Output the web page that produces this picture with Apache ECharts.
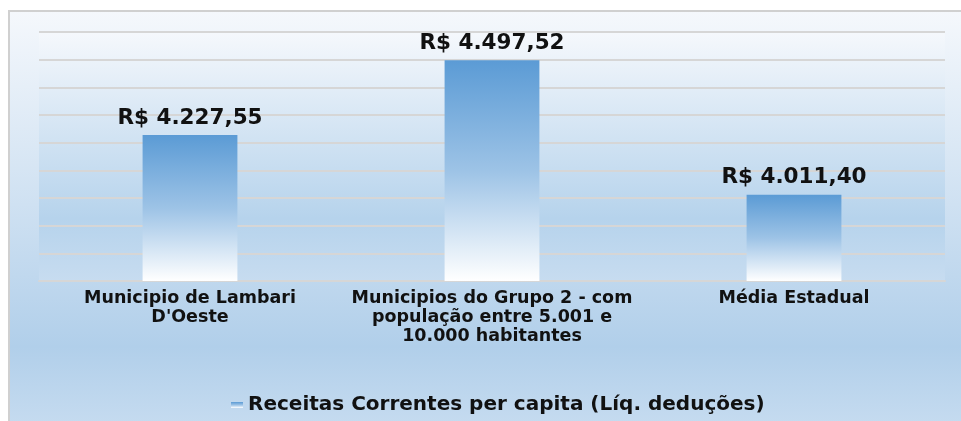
<!DOCTYPE html>
<html>
<head>
<meta charset="utf-8">
<script src="https://cdn.jsdelivr.net/npm/echarts@6/dist/echarts.min.js"></script>
<style>
  html, body { margin: 0; padding: 0; background: #ffffff; }
  #chart { width: 961px; height: 421px; }
</style>
</head>
<body>
<div id="chart"></div>
<script>
// dados do gráfico
const categorias = [
  'Municipio de Lambari\nD\'Oeste',
  'Municipios do Grupo 2 - com\npopulação entre 5.001 e\n10.000 habitantes',
  'Média Estadual'
]
const receitas = [4227.55, 4497.52, 4011.40]
const nomeSerie = 'Receitas Correntes per capita (Líq. deduções)'

// formata R$ 4.227,55
const formatarReal = (v) => {
  const partes = v.toFixed(2).split('.')
  const inteiro = partes[0].replace(/\B(?=(\d{3})+(?!\d))/g, '.')
  return 'R$ ' + inteiro + ',' + partes[1]
}

const chart = echarts.init(document.getElementById('chart'), null, { renderer: 'canvas' })

const fonte = '"DejaVu Sans", Arial, sans-serif'

const option = {
  animation: false,
  backgroundColor: '#ffffff',
  graphic: [
    {
      type: 'rect',
      z: -100,
      silent: true,
      shape: { x: 9, y: 11, width: 970, height: 430 },
      style: {
        fill: new echarts.graphic.LinearGradient(0, 0, 0, 1, [
          { offset: 0, color: '#f5f8fc' },
          { offset: 0.45, color: '#cfe1f2' },
          { offset: 0.78, color: '#b1cfea' },
          { offset: 1, color: '#cadef1' }
        ]),
        stroke: '#d0d0d0',
        lineWidth: 2
      }
    }
  ],
  legend: {
    data: [nomeSerie],
    left: 226,
    top: 390,
    itemWidth: 12,
    itemHeight: 6,
    itemGap: 8,
    icon: 'rect',
    textStyle: {
      fontFamily: fonte,
      fontWeight: 'bold',
      fontSize: 20,
      color: '#111111'
    }
  },
  grid: {
    left: 39,
    right: 16,
    top: 32,
    bottom: 140,
    show: true,
    borderWidth: 0,
    backgroundColor: new echarts.graphic.LinearGradient(0, 0, 0, 1, [
      { offset: 0, color: '#f5f8fc' },
      { offset: 0.75, color: '#b6d3ec' },
      { offset: 1, color: '#c7dcf0' }
    ])
  },
  xAxis: {
    type: 'category',
    data: categorias,
    axisLine: { show: true, lineStyle: { color: '#d6d6d6', width: 2 } },
    axisTick: { show: false },
    axisLabel: {
      interval: 0,
      margin: 8,
      fontFamily: fonte,
      fontWeight: 'bold',
      fontSize: 17.5,
      lineHeight: 19,
      color: '#111111'
    }
  },
  yAxis: {
    type: 'value',
    min: 3700,
    max: 4600,
    interval: 100,
    axisLabel: { show: false },
    axisLine: { show: false },
    axisTick: { show: false },
    splitLine: { lineStyle: { color: '#d6d6d6', width: 2 } }
  },
  series: [
    {
      name: nomeSerie,
      type: 'bar',
      barWidth: '31.4%',
      data: receitas,
      itemStyle: {
        color: new echarts.graphic.LinearGradient(0, 0, 0, 1, [
          { offset: 0, color: '#5b9bd5' },
          { offset: 0.5, color: '#9dc3e6' },
          { offset: 1, color: '#ffffff' }
        ])
      },
      label: {
        show: true,
        position: 'top',
        distance: 6,
        fontFamily: fonte,
        fontWeight: 'bold',
        fontSize: 21.5,
        color: '#111111',
        formatter: (p) => formatarReal(p.value)
      }
    }
  ]
}

chart.setOption(option)
</script>
</body>
</html>
